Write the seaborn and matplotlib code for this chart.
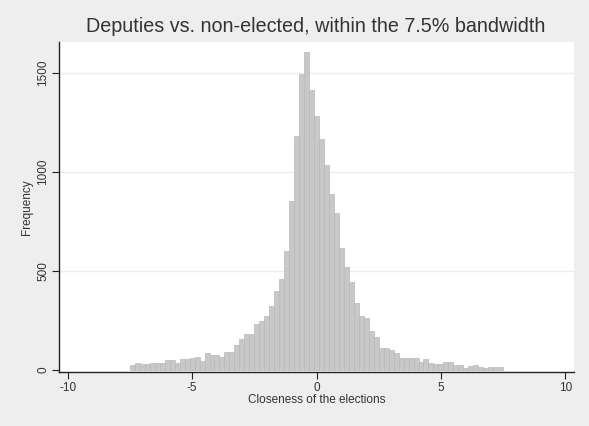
import numpy as np
import pandas as pd
import matplotlib
matplotlib.use("Agg")
import matplotlib.pyplot as plt
import seaborn as sns

# ---- data (bin width 0.2, from -7.5 to 7.5) ----
bin_start = -7.5
bin_width = 0.2
counts = [24, 37, 29, 29, 37, 37, 37, 51, 51, 37,
          55, 55, 62, 68, 47, 87, 74, 74, 67, 93,
          93, 125, 155, 180, 180, 230, 249, 273, 323, 398,
          460, 603, 852, 1182, 1495, 1607, 1413, 1283, 1165, 1034,
          891, 791, 615, 522, 446, 337, 273, 261, 199, 165,
          113, 113, 103, 86, 62, 60, 60, 60, 42, 56,
          37, 30, 30, 38, 43, 24, 24, 12, 19, 24,
          17, 12, 17, 17, 17]
x_ticks = [-10, -5, 0, 5, 10]
y_ticks = [0, 500, 1000, 1500]
title = "Deputies vs. non-elected, within the 7.5% bandwidth"
x_label = "Closeness of the elections"
y_label = "Frequency"

n = len(counts)
centers = bin_start + bin_width * (np.arange(n) + 0.5)
df = pd.DataFrame({"closeness": centers, "count": counts})

sns.set_style("white")
plt.rcParams["font.family"] = ["Liberation Sans", "DejaVu Sans"]

bg = "#EEEEEE"
fig = plt.figure(figsize=(5.89, 4.26), dpi=100, facecolor=bg)
ax = fig.add_axes([59 / 589, (426 - 372) / 426, (574 - 59) / 589, (372 - 42) / 426])
ax.set_facecolor("white")

sns.histplot(data=df, x="closeness", weights="count",
             binwidth=bin_width, binrange=(bin_start, bin_start + bin_width * n),
             color="#C8C8C8", edgecolor="#B9B9B9", linewidth=0.5, alpha=1,
             ax=ax, zorder=2)

ax.set_xlim(-10.35, 10.35)
ax.set_ylim(-10, 1656)
ax.set_xticks(x_ticks)
ax.set_xticklabels([str(t) for t in x_ticks])
ax.set_yticks(y_ticks)
ax.set_yticklabels([str(t) for t in y_ticks], rotation=90, va="center")

for v in y_ticks[1:]:
    ax.axhline(v, color="#EDEDED", lw=1.0, zorder=1)

for s in ["top", "right"]:
    ax.spines[s].set_visible(False)
for s in ["left", "bottom"]:
    ax.spines[s].set_color("#222222")
    ax.spines[s].set_linewidth(1.0)

ax.tick_params(axis="both", direction="out", length=5, width=0.8,
               color="#222222", labelsize=8.5, labelcolor="#333333",
               bottom=True, left=True, pad=2)

ax.set_xlabel(x_label, fontsize=8.5, color="#333333", labelpad=0)
ax.set_ylabel(y_label, fontsize=8.5, color="#333333", labelpad=3)
fig.text(316 / 589, 1 - 27 / 426, title, ha="center", va="center",
         fontsize=14.2, color="#333333")

fig.savefig("out.png", dpi=100, facecolor=bg)
